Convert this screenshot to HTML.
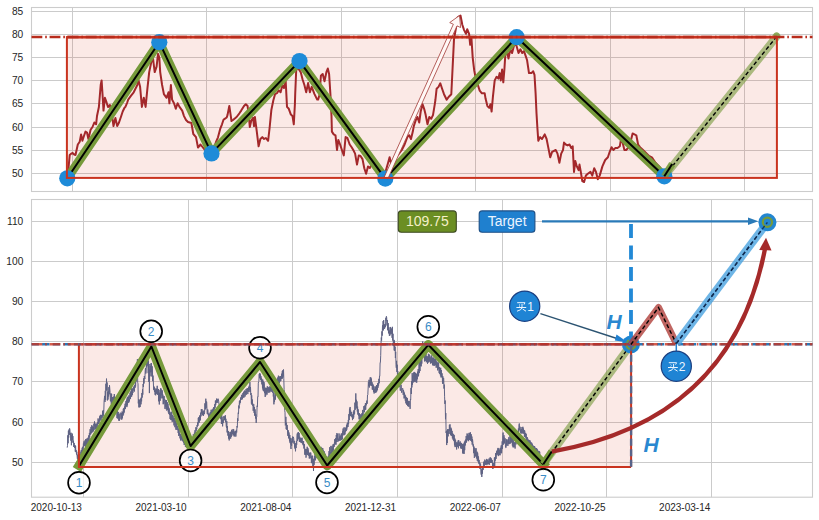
<!DOCTYPE html>
<html><head><meta charset="utf-8"><style>html,body{margin:0;padding:0;background:#fff;width:819px;height:520px;overflow:hidden;position:relative}</style></head>
<body>
<svg width="819" height="520" viewBox="0 0 819 520" style="position:absolute;left:0;top:0">
<rect x="0" y="0" width="819" height="520" fill="#ffffff"/>
<line x1="31.5" x2="812.5" y1="11.5" y2="11.5" stroke="#cbcbcb" stroke-width="1"/>
<line x1="31.5" x2="812.5" y1="34.5" y2="34.5" stroke="#cbcbcb" stroke-width="1"/>
<line x1="31.5" x2="812.5" y1="57.5" y2="57.5" stroke="#cbcbcb" stroke-width="1"/>
<line x1="31.5" x2="812.5" y1="80.5" y2="80.5" stroke="#cbcbcb" stroke-width="1"/>
<line x1="31.5" x2="812.5" y1="103.5" y2="103.5" stroke="#cbcbcb" stroke-width="1"/>
<line x1="31.5" x2="812.5" y1="127.5" y2="127.5" stroke="#cbcbcb" stroke-width="1"/>
<line x1="31.5" x2="812.5" y1="150.5" y2="150.5" stroke="#cbcbcb" stroke-width="1"/>
<line x1="31.5" x2="812.5" y1="173.5" y2="173.5" stroke="#cbcbcb" stroke-width="1"/>
<line x1="72.5" x2="72.5" y1="7.5" y2="191.5" stroke="#cbcbcb" stroke-width="1"/>
<line x1="206.5" x2="206.5" y1="7.5" y2="191.5" stroke="#cbcbcb" stroke-width="1"/>
<line x1="341.5" x2="341.5" y1="7.5" y2="191.5" stroke="#cbcbcb" stroke-width="1"/>
<line x1="475.5" x2="475.5" y1="7.5" y2="191.5" stroke="#cbcbcb" stroke-width="1"/>
<line x1="610.5" x2="610.5" y1="7.5" y2="191.5" stroke="#cbcbcb" stroke-width="1"/>
<line x1="744.5" x2="744.5" y1="7.5" y2="191.5" stroke="#cbcbcb" stroke-width="1"/>
<rect x="31.5" y="7.5" width="781" height="184" fill="none" stroke="#cccccc" stroke-width="1.1"/>
<line x1="31.5" x2="812.5" y1="221.5" y2="221.5" stroke="#cbcbcb" stroke-width="1"/>
<line x1="31.5" x2="812.5" y1="261.5" y2="261.5" stroke="#cbcbcb" stroke-width="1"/>
<line x1="31.5" x2="812.5" y1="301.5" y2="301.5" stroke="#cbcbcb" stroke-width="1"/>
<line x1="31.5" x2="812.5" y1="341.5" y2="341.5" stroke="#cbcbcb" stroke-width="1"/>
<line x1="31.5" x2="812.5" y1="381.5" y2="381.5" stroke="#cbcbcb" stroke-width="1"/>
<line x1="31.5" x2="812.5" y1="422.5" y2="422.5" stroke="#cbcbcb" stroke-width="1"/>
<line x1="31.5" x2="812.5" y1="462.5" y2="462.5" stroke="#cbcbcb" stroke-width="1"/>
<line x1="83.5" x2="83.5" y1="199.5" y2="497.2" stroke="#cbcbcb" stroke-width="1"/>
<line x1="188.5" x2="188.5" y1="199.5" y2="497.2" stroke="#cbcbcb" stroke-width="1"/>
<line x1="292.5" x2="292.5" y1="199.5" y2="497.2" stroke="#cbcbcb" stroke-width="1"/>
<line x1="397.5" x2="397.5" y1="199.5" y2="497.2" stroke="#cbcbcb" stroke-width="1"/>
<line x1="502.5" x2="502.5" y1="199.5" y2="497.2" stroke="#cbcbcb" stroke-width="1"/>
<line x1="606.5" x2="606.5" y1="199.5" y2="497.2" stroke="#cbcbcb" stroke-width="1"/>
<line x1="711.5" x2="711.5" y1="199.5" y2="497.2" stroke="#cbcbcb" stroke-width="1"/>
<rect x="31.5" y="199.5" width="781" height="297.7" fill="none" stroke="#cccccc" stroke-width="1.1"/>
<rect x="66.9" y="37.1" width="710" height="140.8" fill="rgb(220,70,50)" fill-opacity="0.12"/>
<rect x="78.9" y="344.3" width="552.2" height="122.6" fill="rgb(220,70,50)" fill-opacity="0.12"/>
<g font-family="Liberation Sans, sans-serif" font-size="10.2" fill="#262626" text-anchor="end">
<text x="23.3" y="14.6">85</text>
<text x="23.3" y="37.6">80</text>
<text x="23.3" y="60.6">75</text>
<text x="23.3" y="83.6">70</text>
<text x="23.3" y="106.6">65</text>
<text x="23.3" y="130.6">60</text>
<text x="23.3" y="153.6">55</text>
<text x="23.3" y="176.6">50</text>
<text x="23.3" y="224.6">110</text>
<text x="23.3" y="264.6">100</text>
<text x="23.3" y="304.6">90</text>
<text x="23.3" y="344.6">80</text>
<text x="23.3" y="384.6">70</text>
<text x="23.3" y="425.6">60</text>
<text x="23.3" y="465.6">50</text>
</g>
<g font-family="Liberation Sans, sans-serif" font-size="10" fill="#262626" text-anchor="end">
<text x="81.9" y="510.8">2020-10-13</text>
<text x="186.63" y="510.8">2021-03-10</text>
<text x="291.36" y="510.8">2021-08-04</text>
<text x="396.09" y="510.8">2021-12-31</text>
<text x="500.82" y="510.8">2022-06-07</text>
<text x="605.55" y="510.8">2022-10-25</text>
<text x="710.28" y="510.8">2023-03-14</text>
</g>
<polyline points="67.3,176 68.7,166 69.7,155 71.4,153.6 72.6,153 74.2,154.5 75.5,155 77.8,144.5 79.7,141.7 81.1,134.4 82.4,140.8 84.2,135.3 85.5,131.6 87,132.5 88.4,139 90.6,129.8 92.5,127 94.3,122.5 96.1,124.3 97,116 98.9,107 100.7,85 101.6,80.4 102.5,94 103.5,110.6 104.9,97.8 106.2,101.4 108,107 109.9,105 111.7,113.3 113.5,126 115.4,117.9 117.2,126.1 119,122.5 120.9,117 121.8,114.2 122.7,111.5 124.5,107.8 125.4,106.9 127.3,102.3 128.2,99.6 130.9,95.9 133.7,92.3 137.3,85 138.3,79.5 140.1,86.8 141.9,106.9 143.8,97.8 145.6,106.9 147.4,88.6 149.2,72.1 151.1,63 152.9,57.5 154.7,72.1 156.6,66.6 158,53.8 159.3,57.5 160.2,72.1 162.1,85 163.9,94.1 166.6,97.8 168.5,92.3 169.4,103.3 170.9,85 172.1,99.6 174,103.3 175.8,108.8 177.6,103.3 179.5,106.9 182.2,110.6 184,116.1 186,120 188,122 191.4,123 193.3,134 196,137.1 198,147.6 200.5,144.5 202.5,147 205,150 208,152 211,153 214,148 216,142 218,137.3 220.3,128.6 222,124.3 223.5,119.8 224.7,118.8 226.7,117.5 227.5,115.1 229.3,106 230.8,116.1 231.5,121 233,120 236.6,117 239.4,113.3 241.2,110.6 244,106 245.8,104.2 247.6,106 249.1,118.8 249.8,127 251.3,120.6 253.1,117.9 254,126.1 254.9,117 256.8,131.6 258.6,146.3 260.4,139 262.3,137.1 264.1,139 265.9,138 268.1,140.8 269.6,128 271.4,109.7 273.3,100.5 275.1,94.1 276.9,93.2 278.8,90.4 280.6,92.3 282.4,85 284,88 285.7,81.3 287,106.9 288.8,108.8 290.7,114.2 292.5,116.1 293.8,124.3 294.9,104.2 295.2,94.1 296.2,70.3 298,68 300.7,72.1 302.6,79.5 304.4,85 306.2,92.3 308.1,83.1 309.9,92.3 311.7,86.8 314.5,94.1 317.2,99.6 318.1,99.6 319.5,95 320.9,75.8 322.7,74 324.5,81.3 326.4,72.1 327.8,68.5 329.1,74 330.4,94.1 331.5,116.1 331.9,131.6 333.7,134.4 335.5,135.3 337,150 338.3,139.9 340.1,144.5 341.9,150 343.8,155.4 345.6,137.1 347.4,138 349.7,144.5 351.5,147 353.3,150 355.1,153.6 357,164.6 358.8,155.4 360.5,156 362.5,159.1 364.3,168.3 366.1,173.8 368,166.4 369.8,168 371.6,164.6 374,168 377,172 380,175 384,177 386,170 388.1,162.8 389.6,157.3 391,163 393,160 397.3,155.4 399.5,153 401.8,150 404.6,144.5 407.3,137.1 409.2,135.3 411,139 412.8,131.6 413.8,126.1 415.6,120.6 417.4,117 419.2,122.5 420.7,111.5 422.5,104.2 424.4,109.7 425.7,115.1 427.5,124.3 429.3,117 431.2,118.8 433,115.1 434.8,104.2 435.4,100 436.6,88.8 438.5,86.9 440.3,83.3 442.1,88.8 444,94.2 446.7,99.7 448.6,97 451.3,94.2 453.1,57.6 454,39.3 455.9,28.3 457.7,17.3 460.5,15.5 462.3,24.7 464.1,30.1 466,33.8 467.2,29.2 469.1,33.8 470.2,44.8 471.4,37.5 472.7,57.6 474.2,70.4 476,79.6 477.9,85.1 479.7,90.6 481.9,93.3 484.7,93.3 485.6,98.8 487.4,106.1 489.2,107.9 490.5,104.2 491.6,111.6 492.9,96.9 494.7,80.4 496.6,76.8 498.4,78.6 499.7,73.1 500.8,80.4 502.1,69.5 503.3,82.3 504.4,69.5 505.2,56.6 506.6,49.3 508.5,58.5 510.3,49.3 512.1,53 514,45.6 516,44 518.5,53 520.4,49.3 522.2,53 524,51.1 525.9,56.6 527.1,60.3 529,73.1 531.4,73.1 533.2,71.3 534.5,74.9 535.6,93.3 536.5,113.3 537.4,128 538.3,140.8 540.1,137.1 542,139 544.7,134.4 546.6,139 548.4,148.1 550.2,157.3 552.1,151.8 555.7,150 557.5,153.6 559.4,162.8 561.2,153.6 563,150 564,142.6 565.8,144.5 567.6,145.4 569.5,144.5 571.3,148.1 572.7,146.3 574,171.9 575.3,160.9 576.8,166.4 578.6,170.1 579.5,164.6 580.8,171.9 582.3,181.1 584.1,182 585.9,175.6 587.8,173.8 590.5,171.9 592.3,175.6 594.2,168.3 596,171.9 597.8,179.2 599.7,175.6 602.4,166.4 605.2,160 607.9,157.3 609.7,151.8 611.6,147.2 613.4,150 615.2,148.1 617.5,148 619.8,146.3 620.7,140.8 622.6,142.6 624.4,150 626.2,150 628,148 629.9,144.5 632.6,133.5 634.5,134.4 636.3,135.3 638.1,144.5 640,147.2 643,150 646,153 649,156 651.9,157.3 655.5,162.8 659.2,166.4 661,169" fill="none" stroke="#a3282b" stroke-width="2" stroke-linejoin="round"/>
<polyline points="67.3,178.3 159.3,42.2 211.5,153.4 299.5,61.1 385.3,178.6 516.7,37.2 664.3,176.3" fill="none" stroke="#769a3b" stroke-width="9" stroke-linejoin="round" stroke-linecap="square"/>
<polyline points="67.3,178.3 159.3,42.2 211.5,153.4 299.5,61.1 385.3,178.6 516.7,37.2 664.3,176.3" fill="none" stroke="#000" stroke-width="2" stroke-linejoin="round"/>
<line x1="664.3" y1="176.3" x2="776.6" y2="36.6" stroke="#769a3b" stroke-opacity="0.6" stroke-width="8" stroke-linecap="round"/>
<line x1="664.3" y1="176.3" x2="776.6" y2="36.6" stroke="#000" stroke-width="1.4" stroke-dasharray="4 2.5"/>
<circle cx="776.6" cy="35.6" r="3.2" fill="#769a3b" fill-opacity="0.6"/>
<circle cx="67.3" cy="178.3" r="8.1" fill="#1e8bd8"/>
<circle cx="159.3" cy="42.2" r="8.1" fill="#1e8bd8"/>
<circle cx="211.5" cy="153.4" r="8.1" fill="#1e8bd8"/>
<circle cx="299.5" cy="61.1" r="8.1" fill="#1e8bd8"/>
<circle cx="385.3" cy="178.6" r="8.1" fill="#1e8bd8"/>
<circle cx="516.7" cy="37.2" r="8.1" fill="#1e8bd8"/>
<circle cx="664.3" cy="176.3" r="8.1" fill="#1e8bd8"/>
<line x1="664.3" y1="176.3" x2="672.2" y2="164" stroke="#769a3b" stroke-width="7" stroke-opacity="0.85"/>
<line x1="664.3" y1="176.3" x2="672.2" y2="164" stroke="#000" stroke-width="2"/>
<polygon points="387.82,178.82 457,25.89 460.64,27.54 459.5,15.5 449.71,22.59 453.35,24.24 384.18,177.18" fill="#fff8f6" stroke="#a33a36" stroke-width="0.8" stroke-linejoin="miter"/>
<rect x="66.9" y="37.1" width="710" height="140.8" fill="none" stroke="#c9331f" stroke-width="2"/>
<line x1="66.9" x2="776.9" y1="37.1" y2="37.1" stroke="#c9331f" stroke-width="2.6"/>
<line x1="31.5" x2="812.5" y1="37" y2="37" stroke="#b82c1c" stroke-width="2.6" stroke-dasharray="10.8 2.9 1.6 2.8"/>
<polyline points="67.2,447.64 67.5,445.69 67.8,435.3 68.1,443.26 68.4,430.78 68.7,437.6 69,429.51 69.3,434.82 69.6,428.39 69.9,429.74 70.2,434.54 70.5,433.22 70.8,440.64 71.1,432.76 71.4,445.25 71.7,435.29 72,442.32 72.3,433.6 72.6,439.85 72.9,436.12 73.2,443 73.5,440.76 73.8,447.01 74.1,442.96 74.4,444.29 74.7,447.95 75,445.17 75.3,451.61 75.6,445.9 75.9,452.07 76.2,450.22 76.5,454.52 76.8,451.78 77.1,456.44 77.4,458.84 77.7,454.65 78,461.41 78.3,462.49 78.6,459.07 78.9,464.18 79.2,456.25 79.5,462.19 79.8,453.85 80.1,459.35 80.4,459.28 80.7,451.97 81,452.04 81.3,449.93 81.6,454.79 81.9,452.47 82.2,447.79 82.5,452.31 82.8,446.75 83.1,451.17 83.4,443.57 83.7,446.75 84,441.36 84.3,445.93 84.6,441.69 84.9,445.05 85.2,440.01 85.5,447.16 85.8,438.99 86.1,446.51 86.4,439.53 86.7,446.62 87,438.44 87.3,446.06 87.6,444.14 87.9,437.73 88.2,443.37 88.5,437.51 88.8,435.34 89.1,441.74 89.4,432.93 89.7,437.26 90,429.21 90.3,429.63 90.6,434.62 90.9,427.02 91.2,426.94 91.5,433.29 91.8,425.17 92.1,432.49 92.4,426.44 92.7,431.82 93,431.45 93.3,427.06 93.6,431.21 93.9,423.7 94.2,429.76 94.5,421.38 94.8,426.05 95.1,423.85 95.4,424.42 95.7,429.33 96,423.52 96.3,429.13 96.6,428.07 96.9,423.7 97.2,427.91 97.5,422.3 97.8,424.25 98.1,418.44 98.4,424.04 98.7,419.76 99,423.39 99.3,422.27 99.6,416.41 99.9,421.09 100.2,415.42 100.5,419.45 100.8,414.77 101.1,420.17 101.4,415.08 101.7,417.85 102,417.84 102.3,416.53 102.6,411.14 102.9,417.71 103.2,410.1 103.5,415.61 103.8,411.53 104.1,400.99 104.4,397.93 104.7,395.87 105,401.98 105.3,390.78 105.6,399.93 105.9,383.74 106.2,390.5 106.5,378.6 106.8,390.25 107.1,382.48 107.4,400.45 107.7,392.08 108,399.55 108.3,390.93 108.6,396.44 108.9,387.13 109.2,394.29 109.5,385.27 109.8,388.88 110.1,392.65 110.4,401.34 110.7,401.17 111,393.37 111.3,404.51 111.6,393.94 111.9,401.85 112.2,404.24 112.5,397.14 112.8,401.58 113.1,403.1 113.4,401.82 113.7,396.56 114,401.14 114.3,394.03 114.6,400.67 114.9,397.19 115.2,404.53 115.5,399.16 115.8,409.18 116.1,403.47 116.4,408.39 116.7,406.88 117,418.11 117.3,409.81 117.6,418.54 117.9,418.12 118.2,411.9 118.5,413.46 118.8,420.62 119.1,414.16 119.4,420.68 119.7,419.02 120,412.87 120.3,412.76 120.6,413.67 120.9,418.8 121.2,419.43 121.5,413.27 121.8,419.5 122.1,411.48 122.4,418.26 122.7,412.06 123,415.69 123.3,408.84 123.6,414.4 123.9,407.95 124.2,412.56 124.5,406.52 124.8,409.07 125.1,403.72 125.4,409.08 125.7,402.82 126,400.96 126.3,406.16 126.6,399.63 126.9,407.12 127.2,397.57 127.5,405.28 127.8,396.81 128.1,402.24 128.4,396.6 128.7,402.84 129,395.28 129.3,401.49 129.6,398.65 129.9,393.12 130.2,392.51 130.5,399.08 130.8,391.38 131.1,396.92 131.4,388.82 131.7,396.45 132,388.13 132.3,395.03 132.6,388.92 132.9,392.95 133.2,388.51 133.5,386.9 133.8,390.4 134.1,386.26 134.4,391.52 134.7,385.14 135,387.91 135.3,381.34 135.6,386.46 135.9,378.64 136.2,381.48 136.5,378.67 136.8,366.56 137.1,376.86 137.4,359.12 137.7,382.46 138,383.8 138.3,403.37 138.6,399.52 138.9,407.39 139.2,400.34 139.5,407.21 139.8,399.5 140.1,407.04 140.4,400.57 140.7,398.56 141,404.34 141.3,397.37 141.6,401.33 141.9,393.05 142.2,397.56 142.5,389.33 142.8,394.64 143.1,383.96 143.4,386.95 143.7,378.32 144,383.52 144.3,376.06 144.6,377.69 144.9,379.03 145.2,370.58 145.5,368.04 145.8,373.57 146.1,372.03 146.4,363.21 146.7,367.35 147,362.28 147.3,365.65 147.6,356.67 147.9,356.25 148.2,373.16 148.5,360.68 148.8,381.96 149.1,364 149.4,393.08 149.7,369.66 150,376.31 150.3,366.01 150.6,372.27 150.9,363.43 151.2,371.81 151.5,363.19 151.8,376.48 152.1,366.22 152.4,368.18 152.7,381.11 153,375.59 153.3,380.99 153.6,389.07 153.9,390.11 154.2,386.64 154.5,392.01 154.8,387.96 155.1,394.73 155.4,389.75 155.7,395.3 156,388.81 156.3,393.56 156.6,388.75 156.9,393.73 157.2,385.8 157.5,394.45 157.8,395 158.1,390.19 158.4,388.97 158.7,401.33 159,389.93 159.3,404.46 159.6,392.89 159.9,392.79 160.2,400.76 160.5,388.42 160.8,398.07 161.1,388.59 161.4,395.19 161.7,390.32 162,398.48 162.3,390.51 162.6,397.94 162.9,394.63 163.2,404.26 163.5,396.68 163.8,403.55 164.1,396.04 164.4,398.76 164.7,400.2 165,408.88 165.3,399.79 165.6,406.62 165.9,401.55 166.2,409.27 166.5,400.16 166.8,410.64 167.1,409.34 167.4,402.25 167.7,409.94 168,403.78 168.3,412.33 168.6,406.71 168.9,414.08 169.2,408.41 169.5,414.87 169.8,412.4 170.1,419.01 170.4,413.3 170.7,419.66 171,411.79 171.3,420.09 171.6,412.92 171.9,411.75 172.2,421.87 172.5,415.02 172.8,421.05 173.1,415.71 173.4,421.49 173.7,418.26 174,425.4 174.3,417.87 174.6,419.3 174.9,427.21 175.2,421.33 175.5,420.38 175.8,429.06 176.1,429.89 176.4,422.39 176.7,428.83 177,429.96 177.3,430.03 177.6,425.76 177.9,428.11 178.2,433.03 178.5,428.5 178.8,435.96 179.1,429.69 179.4,435.16 179.7,433.16 180,438.4 180.3,434.22 180.6,440.47 180.9,434.08 181.2,434.19 181.5,439.48 181.8,435.96 182.1,440.76 182.4,436.23 182.7,441.34 183,439.1 183.3,438.7 183.6,442.63 183.9,439.39 184.2,444.92 184.5,439.67 184.8,444.43 185.1,442.63 185.4,446.82 185.7,443.51 186,442.67 186.3,447.37 186.6,444.28 186.9,446.86 187.2,444.46 187.5,447.57 187.8,443.88 188.1,447.52 188.4,444.1 188.7,448.65 189,443.47 189.3,448.23 189.6,446.95 189.9,448.09 190.2,442.65 190.5,446.86 190.8,442.48 191.1,446.55 191.4,442.15 191.7,444.86 192,440.41 192.3,443.55 192.6,438.14 192.9,442.99 193.2,434.23 193.5,434.6 193.8,440.26 194.1,439.01 194.4,432.74 194.7,435.42 195,430.22 195.3,433.99 195.6,435.21 195.9,427.24 196.2,430.8 196.5,427.77 196.8,429.15 197.1,424.98 197.4,426.68 197.7,422.36 198,425.73 198.3,417.91 198.6,423.18 198.9,417.04 199.2,422.69 199.5,415.9 199.8,420.66 200.1,415.02 200.4,420.2 200.7,412.65 201,416.32 201.3,409.2 201.6,413.46 201.9,409.14 202.2,409.63 202.5,415.19 202.8,411.89 203.1,411.21 203.4,415.91 203.7,411.31 204,410.41 204.3,414.22 204.6,412.55 204.9,403.33 205.2,408.9 205.5,409.37 205.8,398.7 206.1,408.22 206.4,401.49 206.7,401.69 207,410.36 207.3,414.02 207.6,409.55 207.9,409.52 208.2,415.09 208.5,413.57 208.8,417.64 209.1,414.25 209.4,417.73 209.7,413.5 210,417.24 210.3,411.94 210.6,416.54 210.9,411.56 211.2,409.69 211.5,413.88 211.8,410.8 212.1,413.47 212.4,409.7 212.7,413.08 213,408.65 213.3,412.25 213.6,407.25 213.9,411.4 214.2,407.38 214.5,409.38 214.8,404.19 215.1,407.76 215.4,400.71 215.7,405.04 216,400.4 216.3,403.1 216.6,398.58 216.9,402.2 217.2,399.27 217.5,402.18 217.8,402.88 218.1,398.7 218.4,399.82 218.7,401.23 219,404.39 219.3,407.83 219.6,404.66 219.9,410.14 220.2,408.75 220.5,415.86 220.8,419.18 221.1,413.5 221.4,423.97 221.7,415.04 222,418.01 222.3,417.48 222.6,426.34 222.9,419.94 223.2,423.09 223.5,418.26 223.8,416.13 224.1,416.89 224.4,420.24 224.7,416.4 225,419.97 225.3,415.16 225.6,422.15 225.9,418.79 226.2,425.86 226.5,427.67 226.8,421.17 227.1,432.43 227.4,426.1 227.7,433.32 228,435.73 228.3,430.98 228.6,438.59 228.9,431.92 229.2,440.44 229.5,434.59 229.8,438.74 230.1,432.09 230.4,431.81 230.7,438.52 231,432.66 231.3,436.82 231.6,429.79 231.9,435.65 232.2,431.02 232.5,433.99 232.8,429.55 233.1,428.97 233.4,434.99 233.7,429.42 234,436.35 234.3,431.96 234.6,436.31 234.9,431.32 235.2,435.24 235.5,430.92 235.8,436.63 236.1,434.71 236.4,429.85 236.7,432.44 237,426.13 237.3,427.4 237.6,418.34 237.9,421.09 238.2,412.74 238.5,413.9 238.8,405.52 239.1,408.38 239.4,401.2 239.7,404.45 240,400.15 240.3,402.78 240.6,397.82 240.9,397.28 241.2,399.93 241.5,394.84 241.8,395.33 242.1,399.16 242.4,399.28 242.7,393.99 243,392.93 243.3,397.46 243.6,391.71 243.9,397.61 244.2,397.07 244.5,390.56 244.8,390.83 245.1,396.5 245.4,391.07 245.7,394.37 246,389.12 246.3,394.75 246.6,390.51 246.9,388.5 247.2,390.32 247.5,388.19 247.8,394.13 248.1,388.84 248.4,391.59 248.7,386.81 249,391.73 249.3,385.65 249.6,389.91 249.9,382.06 250.2,392.12 250.5,387.07 250.8,394.96 251.1,393.11 251.4,403.65 251.7,395.27 252,404.83 252.3,399.42 252.6,405.77 252.9,403.71 253.2,410.81 253.5,405.67 253.8,404.38 254.1,412.9 254.4,406.98 254.7,415.73 255,409.28 255.3,411.19 255.6,418.53 255.9,414.36 256.2,422.87 256.5,417.12 256.8,416.63 257.1,405.79 257.4,406.86 257.7,396.83 258,397.01 258.3,383.13 258.6,381.61 258.9,381.28 259.2,374.22 259.5,378.18 259.8,372.97 260.1,378.14 260.4,374.22 260.7,379.86 261,376.21 261.3,381.72 261.6,378.21 261.9,384.35 262.2,379.66 262.5,388.32 262.8,379.58 263.1,390.4 263.4,381.45 263.7,391.26 264,382.12 264.3,383.62 264.6,393.15 264.9,389.15 265.2,396.93 265.5,387.76 265.8,395.45 266.1,387.94 266.4,393.59 266.7,387.92 267,394.66 267.3,386.32 267.6,391.44 267.9,386.87 268.2,392.83 268.5,387.44 268.8,387.64 269.1,391.23 269.4,387.36 269.7,392.52 270,386.05 270.3,391.02 270.6,387.17 270.9,391.61 271.2,386.9 271.5,390.65 271.8,391.71 272.1,386.9 272.4,390.63 272.7,392.75 273,388.25 273.3,396.54 273.6,392.62 273.9,404.34 274.2,396.8 274.5,401.99 274.8,394.44 275.1,392.74 275.4,399.63 275.7,389.63 276,388.09 276.3,394.15 276.6,382.05 276.9,389.5 277.2,378.68 277.5,386.25 277.8,377.44 278.1,384.72 278.4,375.67 278.7,384.73 279,377.78 279.3,383.25 279.6,376.41 279.9,377.13 280.2,381.43 280.5,376.28 280.8,381.02 281.1,376.16 281.4,378.95 281.7,373.66 282,378.98 282.3,371.14 282.6,378.16 282.9,370.12 283.2,376.41 283.5,369.48 283.8,378.68 284.1,389.38 284.4,390.81 284.7,410.69 285,412.15 285.3,425.38 285.6,423.97 285.9,416.85 286.2,429.15 286.5,422.72 286.8,429.83 287.1,424.98 287.4,427.97 287.7,434.95 288,435.97 288.3,430.31 288.6,438.4 288.9,432.4 289.2,433.43 289.5,441.36 289.8,435 290.1,443.13 290.4,437.88 290.7,445.73 291,449.03 291.3,441.21 291.6,445.73 291.9,438.33 292.2,441.88 292.5,436.59 292.8,442.62 293.1,437.08 293.4,436.94 293.7,438.4 294,443.69 294.3,440.87 294.6,447.48 294.9,448.52 295.2,443.04 295.5,451.31 295.8,444.51 296.1,448.01 296.4,441.24 296.7,444.77 297,435.25 297.3,433.46 297.6,440.81 297.9,432.48 298.2,439.28 298.5,432.13 298.8,438.17 299.1,433.01 299.4,441.94 299.7,436.75 300,441.15 300.3,437.85 300.6,442.24 300.9,437.9 301.2,442.65 301.5,438.41 301.8,443 302.1,437.73 302.4,443.7 302.7,444.41 303,441.16 303.3,445.38 303.6,441.16 303.9,448.53 304.2,444.69 304.5,444.17 304.8,454.67 305.1,449.29 305.4,454.93 305.7,448.86 306,457.67 306.3,455.13 306.6,448.99 306.9,454.21 307.2,446.77 307.5,455.09 307.8,448.01 308.1,448.84 308.4,449.88 308.7,455.73 309,452.67 309.3,458.53 309.6,452.91 309.9,453.11 310.2,458.3 310.5,452.61 310.8,452.49 311.1,454.72 311.4,462.81 311.7,456.29 312,463.26 312.3,455.58 312.6,457.76 312.9,467.16 313.2,459.48 313.5,470.93 313.8,458.74 314.1,464.79 314.4,456.14 314.7,459.84 315,453.99 315.3,460.38 315.6,458.24 315.9,452.61 316.2,456.95 316.5,452.95 316.8,458.1 317.1,457.95 317.4,452.13 317.7,452.38 318,457.7 318.3,450.65 318.6,454.63 318.9,456.24 319.2,450.65 319.5,449.65 319.8,452.94 320.1,449.19 320.4,447.96 320.7,452.49 321,446.85 321.3,451.04 321.6,448.13 321.9,453.2 322.2,447.96 322.5,453.29 322.8,448.22 323.1,454.3 323.4,450.38 323.7,451.93 324,457.26 324.3,451.38 324.6,459.93 324.9,453.46 325.2,461 325.5,454.29 325.8,460.66 326.1,456.12 326.4,462.74 326.7,459.43 327,464.85 327.3,457.69 327.6,458.73 327.9,461.49 328.2,456.18 328.5,458.25 328.8,453.98 329.1,451.02 329.4,457.66 329.7,447.22 330,454.75 330.3,454.35 330.6,451.86 330.9,445.9 331.2,454.67 331.5,453.78 331.8,446.31 332.1,446.48 332.4,452.15 332.7,447.51 333,444.46 333.3,450.81 333.6,444.89 333.9,443.89 334.2,446.79 334.5,441.69 334.8,439.11 335.1,444.49 335.4,444.04 335.7,438.06 336,444.63 336.3,435.03 336.6,442 336.9,433.05 337.2,439.88 337.5,433.87 337.8,441.87 338.1,441 338.4,438.71 338.7,440.86 339,433.39 339.3,435.94 339.6,440.57 339.9,436.68 340.2,440.65 340.5,435.6 340.8,439.94 341.1,433.85 341.4,433.43 341.7,440.12 342,433.74 342.3,439.2 342.6,430.56 342.9,429.2 343.2,428.4 343.5,429.95 343.8,435.37 344.1,427.31 344.4,434.59 344.7,431.76 345,434.36 345.3,427.7 345.6,431.7 345.9,427.83 346.2,431.03 346.5,425.21 346.8,429.67 347.1,423.51 347.4,427.28 347.7,422.67 348,426.94 348.3,419.94 348.6,424.14 348.9,414.14 349.2,420.07 349.5,408.65 349.8,415.22 350.1,406.97 350.4,416.05 350.7,410.65 351,416.2 351.3,412.39 351.6,412.01 351.9,417.21 352.2,414.71 352.5,420.1 352.8,414.41 353.1,419.01 353.4,411.67 353.7,417.49 354,410.16 354.3,414.39 354.6,413.5 354.9,402.64 355.2,409.75 355.5,403.21 355.8,393.42 356.1,404.12 356.4,399.81 356.7,408.42 357,401.42 357.3,411.51 357.6,406.65 357.9,414.59 358.2,409.39 358.5,415.6 358.8,413.36 359.1,419.37 359.4,413.29 359.7,419.35 360,414.09 360.3,419.23 360.6,420.16 360.9,414.71 361.2,417.55 361.5,418.27 361.8,413.33 362.1,417.39 362.4,415.85 362.7,409.92 363,415.61 363.3,413.71 363.6,412.88 363.9,406.13 364.2,410.85 364.5,412.18 364.8,405.44 365.1,409.73 365.4,403.23 365.7,409.65 366,403.22 366.3,405.28 366.6,401.12 366.9,400.54 367.2,403.74 367.5,395.01 367.8,394.71 368.1,389 368.4,382.14 368.7,386.23 369,379.79 369.3,387.54 369.6,380.48 369.9,385.41 370.2,377.4 370.5,384.84 370.8,377.32 371.1,385.92 371.4,378.59 371.7,385.8 372,382.09 372.3,389.5 372.6,383.67 372.9,389.72 373.2,384.67 373.5,391.91 373.8,386.22 374.1,393.5 374.4,388.82 374.7,392.54 375,386.81 375.3,386.41 375.6,392.66 375.9,387.17 376.2,392.32 376.5,385.09 376.8,391.32 377.1,385.74 377.4,390.09 377.7,383.24 378,387.78 378.3,382.72 378.6,385.55 378.9,378.84 379.2,383.25 379.5,375.98 379.8,376.26 380.1,362.55 380.4,362.7 380.7,355.69 381,343.31 381.3,337.55 381.6,340.6 381.9,331.36 382.2,335.64 382.5,325.37 382.8,330.2 383.1,321.1 383.4,330.39 383.7,320.13 384,329.01 384.3,324.54 384.6,328.57 384.9,324.33 385.2,327.28 385.5,327.06 385.8,317.77 386.1,320.79 386.4,316.3 386.7,317.72 387,325.5 387.3,320.09 387.6,330.15 387.9,330.29 388.2,323.14 388.5,333.36 388.8,327.36 389.1,329.95 389.4,335.83 389.7,330.56 390,335.4 390.3,326.96 390.6,333.5 390.9,327.82 391.2,333.9 391.5,328.82 391.8,329.01 392.1,337.85 392.4,326.83 392.7,340.52 393,333.79 393.3,345 393.6,346.08 393.9,339.87 394.2,350.42 394.5,340.58 394.8,350.95 395.1,346.82 395.4,358.01 395.7,351.76 396,364.62 396.3,367.81 396.6,360.83 396.9,371.91 397.2,364.74 397.5,377.04 397.8,371.12 398.1,383.21 398.4,375.3 398.7,382.5 399,375.79 399.3,387.14 399.6,386.44 399.9,381.44 400.2,390.36 400.5,389.64 400.8,390.64 401.1,384.74 401.4,390.33 401.7,392.74 402,391.84 402.3,388.18 402.6,388.51 402.9,388.51 403.2,394.84 403.5,390.21 403.8,391.47 404.1,398.48 404.4,392.6 404.7,397.84 405,394.7 405.3,400.63 405.6,395.74 405.9,403.34 406.2,397.08 406.5,404.64 406.8,397.8 407.1,403.85 407.4,398.16 407.7,406.13 408,400.75 408.3,405.7 408.6,401.35 408.9,406.91 409.2,401.22 409.5,401.29 409.8,402.72 410.1,408.87 410.4,399.14 410.7,399.91 411,387.94 411.3,393.97 411.6,381.3 411.9,387.45 412.2,373.11 412.5,384.67 412.8,375.5 413.1,382.61 413.4,372.68 413.7,372.64 414,381.95 414.3,371.91 414.6,381.07 414.9,372.47 415.2,382.17 415.5,373.12 415.8,379.68 416.1,376.07 416.4,373.74 416.7,382.72 417,373.82 417.3,379.29 417.6,371.65 417.9,375.55 418.2,369.07 418.5,376.34 418.8,372.82 419.1,363.2 419.4,372.85 419.7,361.95 420,371.06 420.3,361 420.6,365.88 420.9,359.99 421.2,366.38 421.5,357.36 421.8,363.6 422.1,354.22 422.4,355.98 422.7,341.46 423,351.51 423.3,343.16 423.6,348.87 423.9,357.12 424.2,355.65 424.5,361.38 424.8,356.03 425.1,359.48 425.4,355.02 425.7,360.88 426,352.24 426.3,362.25 426.6,356.44 426.9,361.5 427.2,356.15 427.5,363.79 427.8,357.26 428.1,362.29 428.4,353.82 428.7,362.38 429,354.79 429.3,360.99 429.6,354.63 429.9,361.79 430.2,357.29 430.5,362.94 430.8,363.69 431.1,355.74 431.4,362.73 431.7,355.49 432,362.99 432.3,358.14 432.6,365.1 432.9,357.49 433.2,365.71 433.5,357.71 433.8,364.94 434.1,358.85 434.4,365.76 434.7,358.57 435,364.51 435.3,359.04 435.6,365.22 435.9,359.55 436.2,367.79 436.5,361.52 436.8,366.84 437.1,362.6 437.4,363.08 437.7,370.4 438,361.65 438.3,369.08 438.6,363 438.9,369.95 439.2,373.12 439.5,367.03 439.8,374.06 440.1,368.3 440.4,375.4 440.7,367.78 441,377.42 441.3,370.01 441.6,377.2 441.9,373.82 442.2,373.37 442.5,383.55 442.8,376.17 443.1,383.86 443.4,378.09 443.7,377.9 444,388.59 444.3,384.59 444.6,396.84 444.9,403.91 445.2,400.55 445.5,419.22 445.8,413.08 446.1,432.99 446.4,430.95 446.7,445.06 447,430.6 447.3,442.99 447.6,429.21 447.9,436.59 448.2,436.1 448.5,434.68 448.8,429.08 449.1,433.87 449.4,424.88 449.7,430.68 450,424.34 450.3,432.92 450.6,434.79 450.9,427.65 451.2,435.81 451.5,428.78 451.8,436.06 452.1,430.9 452.4,438.37 452.7,433.29 453,439.75 453.3,440 453.6,434.22 453.9,441.12 454.2,435.12 454.5,445.33 454.8,438.45 455.1,447.12 455.4,439.73 455.7,440.66 456,446.95 456.3,443.16 456.6,449.46 456.9,442.04 457.2,446.64 457.5,442.86 457.8,446.6 458.1,440.57 458.4,448.35 458.7,440.06 459,446.1 459.3,442.58 459.6,445.81 459.9,443.1 460.2,441.42 460.5,447.6 460.8,442.86 461.1,448.75 461.4,443.17 461.7,443.2 462,448.82 462.3,443.98 462.6,453.41 462.9,452.49 463.2,444.68 463.5,453.43 463.8,443.49 464.1,453.88 464.4,441.9 464.7,450.19 465,440.7 465.3,445.45 465.6,439.55 465.9,442.91 466.2,435.98 466.5,442.29 466.8,440.35 467.1,433.45 467.4,440.31 467.7,434.39 468,439.29 468.3,435.52 468.6,441.16 468.9,432.91 469.2,433.78 469.5,439.98 469.8,432.84 470.1,439.32 470.4,432.32 470.7,440.72 471,434.93 471.3,434.24 471.6,441.61 471.9,436.55 472.2,444.68 472.5,439.15 472.8,441.49 473.1,446.45 473.4,444.46 473.7,453.17 474,446.58 474.3,457.82 474.6,456.51 474.9,447.98 475.2,456.48 475.5,449.69 475.8,456.09 476.1,448.23 476.4,458.22 476.7,458.54 477,451.66 477.3,460.83 477.6,452.69 477.9,455.28 478.2,461.88 478.5,456.47 478.8,463.63 479.1,459.95 479.4,464.22 479.7,462.48 480,468.96 480.3,463.46 480.6,463.93 480.9,471.93 481.2,474.62 481.5,469.54 481.8,476.96 482.1,468.49 482.4,473.68 482.7,466.13 483,470.04 483.3,467.93 483.6,462.18 483.9,461.54 484.2,464.93 484.5,465.83 484.8,459.58 485.1,463.86 485.4,461.03 485.7,464.95 486,460.31 486.3,463.86 486.6,458.92 486.9,465.14 487.2,459.55 487.5,464.11 487.8,459.87 488.1,463.52 488.4,461.21 488.7,464.19 489,458.6 489.3,464.76 489.6,458.76 489.9,462.12 490.2,457.25 490.5,462.9 490.8,457.9 491.1,462.67 491.4,458.67 491.7,462.92 492,460.07 492.3,460.11 492.6,466.77 492.9,469 493.2,463.14 493.5,467.76 493.8,463.2 494.1,465.84 494.4,457.63 494.7,466.38 495,457.11 495.3,460.65 495.6,453.17 495.9,458.48 496.2,458.9 496.5,451.42 496.8,454.56 497.1,450.42 497.4,454.56 497.7,448.88 498,447.92 498.3,456.1 498.6,449 498.9,448.27 499.2,455.17 499.5,453.79 499.8,449.57 500.1,455.27 500.4,447.89 500.7,452.98 501,446.41 501.3,445.28 501.6,453.27 501.9,448.87 502.2,441.35 502.5,448.76 502.8,435.65 503.1,432.53 503.4,444.6 503.7,436.26 504,435.25 504.3,436.68 504.6,443.43 504.9,439.78 505.2,438.33 505.5,447.13 505.8,447.77 506.1,447.62 506.4,439.42 506.7,445.6 507,439.6 507.3,440.5 507.6,441.03 507.9,445.87 508.2,439.25 508.5,443.83 508.8,437.24 509.1,444.14 509.4,442.61 509.7,443.2 510,435.25 510.3,443.55 510.6,435.69 510.9,443.04 511.2,436.76 511.5,442.18 511.8,437.03 512.1,439.71 512.4,445.67 512.7,438.74 513,447.31 513.3,440.23 513.6,447.17 513.9,441.86 514.2,447.21 514.5,442.5 514.8,443.38 515.1,448.57 515.4,440.85 515.7,439.31 516,444.42 516.3,438.4 516.6,441.04 516.9,440.82 517.2,432.25 517.5,438.47 517.8,431.38 518.1,433.71 518.4,428.52 518.7,432.07 519,424.96 519.3,423.5 519.6,430.29 519.9,426.98 520.2,426.84 520.5,432.65 520.8,429.79 521.1,433.65 521.4,429.01 521.7,432.91 522,427.03 522.3,433.5 522.6,432.67 522.9,426.79 523.2,433.01 523.5,428.59 523.8,433.87 524.1,430.03 524.4,436.76 524.7,430.73 525,436.37 525.3,436.92 525.6,432.88 525.9,438.41 526.2,433.82 526.5,441.69 526.8,437.14 527.1,442.03 527.4,437.41 527.7,438.61 528,443.35 528.3,439.66 528.6,443.71 528.9,439.95 529.2,445.37 529.5,440.48 529.8,446.67 530.1,440.55 530.4,446.24 530.7,442.02 531,446.6 531.3,443.4 531.6,442.61 531.9,447.6 532.2,443.64 532.5,449.08 532.8,445.1 533.1,449.77 533.4,445.94 533.7,450.43 534,446.83 534.3,449.56 534.6,446.04 534.9,451.8 535.2,447.62 535.5,451.92 535.8,448.59 536.1,453.81 536.4,448.08 536.7,452.35 537,448.76 537.3,449.12 537.6,454.41 537.9,450.59 538.2,455.57 538.5,451.5 538.8,455.51 539.1,450.97 539.4,458.14 539.7,451.81 540,457.31" fill="none" stroke="#5f6384" stroke-width="1"/>
<polyline points="79.3,465.5 151.4,346.5 190.6,446 260,362 327.2,465.5 428.3,344.8 543.3,464.2" fill="none" stroke="#769a3b" stroke-width="9.5" stroke-linejoin="round" stroke-linecap="square"/>
<polyline points="79.3,465.5 151.4,346.5 190.6,446 260,362 327.2,465.5 428.3,344.8 543.3,464.2" fill="none" stroke="#000" stroke-width="2" stroke-linejoin="round"/>
<line x1="543.3" y1="464.2" x2="630.9" y2="344.5" stroke="#769a3b" stroke-opacity="0.6" stroke-width="8"/>
<line x1="543.3" y1="464.2" x2="630.9" y2="344.5" stroke="#000" stroke-width="1.4" stroke-dasharray="4 2.5"/>
<line x1="543.3" y1="464.2" x2="551.8" y2="451.5" stroke="#769a3b" stroke-width="7"/>
<line x1="543.3" y1="464.2" x2="551.8" y2="451.5" stroke="#000" stroke-width="2"/>
<circle cx="79" cy="482.7" r="10.9" fill="#ffffff" fill-opacity="0.75" stroke="#000" stroke-width="1.7"/>
<circle cx="151.2" cy="331.3" r="10.9" fill="#ffffff" fill-opacity="0.75" stroke="#000" stroke-width="1.7"/>
<circle cx="190.6" cy="460.4" r="10.9" fill="#ffffff" fill-opacity="0.75" stroke="#000" stroke-width="1.7"/>
<circle cx="260" cy="347.7" r="10.9" fill="#ffffff" fill-opacity="0.75" stroke="#000" stroke-width="1.7"/>
<circle cx="327" cy="482.5" r="10.9" fill="#ffffff" fill-opacity="0.75" stroke="#000" stroke-width="1.7"/>
<circle cx="428.3" cy="326.7" r="10.9" fill="#ffffff" fill-opacity="0.75" stroke="#000" stroke-width="1.7"/>
<circle cx="543.3" cy="479.8" r="10.9" fill="#ffffff" fill-opacity="0.75" stroke="#000" stroke-width="1.7"/>
<g font-family="Liberation Sans, sans-serif" font-size="12" fill="#3a8cc6" text-anchor="middle">
<text x="79" y="487">1</text>
<text x="151.2" y="335.6">2</text>
<text x="190.6" y="464.7">3</text>
<text x="260" y="352">4</text>
<text x="327" y="486.8">5</text>
<text x="428.3" y="331">6</text>
<text x="543.3" y="484.1">7</text>
</g>
<circle cx="630.9" cy="344.5" r="9" fill="#1f86d2"/>
<circle cx="630.9" cy="344.5" r="4.5" fill="none" stroke="#769a3b" stroke-width="2.2"/>
<polyline points="78.9,344.3 78.9,466.9 631.1,466.9" fill="none" stroke="#c9331f" stroke-width="2"/>
<line x1="31.5" x2="812.5" y1="344.2" y2="344.2" stroke="#2a78b8" stroke-width="2.6" stroke-dasharray="7.4 3.2"/>
<line x1="31.5" x2="812.5" y1="344.2" y2="344.2" stroke="#c9331f" stroke-opacity="0.8" stroke-width="2.6" stroke-dasharray="10.8 2.9 1.6 2.8"/>
<line x1="78.9" x2="631.1" y1="344.3" y2="344.3" stroke="#b8302a" stroke-opacity="0.75" stroke-width="2.4"/>
<line x1="631.1" x2="631.1" y1="344.3" y2="466.9" stroke="#c9331f" stroke-width="2"/>
<line x1="631.1" x2="631.1" y1="344.3" y2="466.9" stroke="#58648a" stroke-width="2.4" stroke-dasharray="7 3.5"/>
<line x1="631" x2="631" y1="223.9" y2="344" stroke="#2289d6" stroke-width="3.8" stroke-dasharray="14 7.5"/>
<polyline points="630.9,344.5 658.5,307.5 676.3,343.5" fill="none" stroke="#b0403b" stroke-opacity="0.8" stroke-width="7" stroke-linejoin="round"/>
<polyline points="630.9,344.5 658.5,307.5 676.3,343.5" fill="none" stroke="#000" stroke-width="1.4" stroke-dasharray="4 2.5"/>
<line x1="676.3" y1="343.5" x2="767.4" y2="222.3" stroke="#4aa3e0" stroke-opacity="0.8" stroke-width="8"/>
<line x1="676.3" y1="343.5" x2="767.4" y2="222.3" stroke="#102a50" stroke-width="1.4" stroke-dasharray="4 2.5"/>
<circle cx="767.4" cy="222.3" r="9" fill="#2386d0"/>
<circle cx="767.4" cy="222.3" r="4.6" fill="none" stroke="#769a3b" stroke-width="2.2"/>
<line x1="676.3" y1="343.5" x2="767.4" y2="222.3" stroke="#102a50" stroke-width="1.4" stroke-dasharray="4 2.5" stroke-opacity="0.85"/>
<line x1="542" y1="221.3" x2="750" y2="221.3" stroke="#2a7ab8" stroke-width="2.2"/>
<polygon points="748,217.6 758.3,221.3 748,225" fill="#2a7ab8"/>
<line x1="540.4" y1="313.7" x2="620" y2="339.5" stroke="#2c5472" stroke-width="1.4"/>
<polygon points="616.5,334.5 628,342.6 614.8,340.5" fill="#2080d0"/>
<g font-family="Liberation Sans, sans-serif" font-size="21" font-weight="bold" font-style="italic" fill="#2a88d0">
<text x="606.6" y="329.4">H</text>
<text x="643.6" y="451.7">H</text>
</g>
<path d="M551.8,451.6 Q734,420 765.5,246" fill="none" stroke="#a52a2a" stroke-width="4.3"/>
<polygon points="766,237.7 771.5,250.5 759.2,250" fill="#a52a2a"/>
<circle cx="524.7" cy="306.2" r="15.1" fill="#1f84d4" stroke="#1c3f80" stroke-width="1.2"/>
<path d="M517.2,302.7 H525 L524,304.6 M519,304.6 l1,0.8 M519,306.5 l1,0.8 M516.4,307.5 H526.2 M522,304 V307.7 Q521.4,310.2 517,311.2 M522.6,309 L526,311.2" fill="none" stroke="#eef6ff" stroke-width="1"/>
<text x="527.2" y="310.5" font-family="Liberation Sans, sans-serif" font-size="12" fill="#eef6ff">1</text>
<line x1="676.3" y1="344" x2="676.3" y2="351" stroke="#2080d0" stroke-width="1.5"/>
<circle cx="676.3" cy="366.2" r="15.1" fill="#1f84d4" stroke="#1c3f80" stroke-width="1.2"/>
<path d="M668.8,362.7 H676.6 L675.6,364.6 M670.6,364.6 l1,0.8 M670.6,366.5 l1,0.8 M668,367.5 H677.8 M673.6,364 V367.7 Q673,370.2 668.6,371.2 M674.2,369 L677.6,371.2" fill="none" stroke="#eef6ff" stroke-width="1"/>
<text x="678.8" y="370.5" font-family="Liberation Sans, sans-serif" font-size="12" fill="#eef6ff">2</text>
<rect x="398.3" y="210.9" width="58" height="21.4" rx="3" fill="#6b8e23" stroke="#3d4a22" stroke-width="1.1"/>
<text x="427.3" y="225.5" font-family="Liberation Sans, sans-serif" font-size="14" fill="#f5f0c8" text-anchor="middle">109.75</text>
<rect x="479.2" y="210.9" width="55.7" height="21.4" rx="3" fill="#1f80cf" stroke="#1d4f86" stroke-width="1.1"/>
<text x="507.1" y="225.5" font-family="Liberation Sans, sans-serif" font-size="14" fill="#eaf4ff" text-anchor="middle">Target</text>
</svg>
</body></html>
